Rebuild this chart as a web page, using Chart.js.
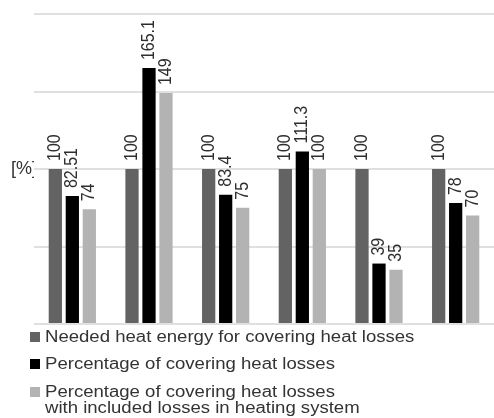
<!DOCTYPE html>
<html>
<head>
<meta charset="utf-8">
<script src="https://cdn.jsdelivr.net/npm/chart.js@4"></script>
<style>
    body { margin: 0; background: #fff; }
    #wrap { position: relative; width: 494px; height: 418px; }
    #legend { position: absolute; left: 0; top: 0; font-family: 'Liberation Sans', Arial, sans-serif; font-size: 16px; color: #333; }
    .item { position: absolute; left: 30px; white-space: nowrap; }
    .box { position: absolute; left: 0; width: 10px; height: 10px; }
    .txt { position: absolute; left: 15px; top: 0; line-height: 16px; transform: scaleX(1.16); transform-origin: 0 0; }
</style>
</head>
<body>
<div id="wrap">
    <canvas id="barChart" width="494" height="418"></canvas>
    <div id="legend"></div>
</div>
<script>
// Chart values
const categories = ['1', '2', '3', '4', '5', '6'];
const neededHeat = [100, 100, 100, 100, 100, 100];
const coveringLosses = [82.51, 165.1, 83.4, 111.3, 39, 78];
const coveringWithSystem = [74, 149, 75, 100, 35, 70];
const seriesLabels = [
    ['Needed heat energy for covering heat losses'],
    ['Percentage of covering heat losses'],
    ['Percentage of covering heat losses', 'with included losses in heating system']
];
const seriesColors = ['#636363', '#000000', '#b3b3b3'];

const FONT = "'Liberation Sans', Arial, sans-serif";

// Rotated value labels above each bar
const valueLabels = {
    id: 'valueLabels',
    afterDatasetsDraw(chart) {
        const ctx = chart.ctx;
        ctx.save();
        ctx.fillStyle = '#2e2e2e';
        ctx.font = '16px ' + FONT;
        ctx.textAlign = 'left';
        ctx.textBaseline = 'middle';
        chart.data.datasets.forEach((ds, i) => {
            chart.getDatasetMeta(i).data.forEach((bar, j) => {
                ctx.save();
                ctx.translate(bar.x, bar.y - 8);
                ctx.scale(1.16, 1);
                ctx.rotate(-Math.PI / 2);
                ctx.fillText(String(ds.data[j]), 0, 0);
                ctx.restore();
            });
        });
        ctx.restore();
    }
};

const ctx = document.getElementById('barChart').getContext('2d');
const barChart = new Chart(ctx, {
    type: 'bar',
    data: {
        labels: categories,
        datasets: [
            { label: seriesLabels[0].join(' '), data: neededHeat, backgroundColor: seriesColors[0] },
            { label: seriesLabels[1].join(' '), data: coveringLosses, backgroundColor: seriesColors[1] },
            { label: seriesLabels[2].join(' '), data: coveringWithSystem, backgroundColor: seriesColors[2] }
        ]
    },
    options: {
        responsive: false,
        animation: false,
        devicePixelRatio: 1,
        layout: { padding: { top: 14, bottom: 94, right: 0, left: 0 } },
        datasets: { bar: { categoryPercentage: 0.665, barPercentage: 0.78 } },
        plugins: { legend: { display: false }, tooltip: { enabled: false } },
        scales: {
            x: { display: false },
            y: {
                min: 0,
                max: 200,
                border: { display: false },
                grid: { color: '#e0e0e0', lineWidth: 2, drawTicks: false },
                afterFit: scale => { scale.width = 34; },
                ticks: {
                    stepSize: 50,
                    padding: -3,
                    color: '#333',
                    font: { family: FONT, size: 18 },
                    callback: v => (v === 100 ? '[%]' : '')
                }
            }
        }
    },
    plugins: [valueLabels]
});

// Legend drawn as html under the plot
const legendTops = [329, 356, 384];
const legend = document.getElementById('legend');
seriesLabels.forEach((lines, i) => {
    const item = document.createElement('div');
    item.className = 'item';
    item.style.top = legendTops[i] + 'px';
    item.innerHTML = '<div class="box" style="top:3px;background:' + seriesColors[i] + '"></div>' +
        '<div class="txt">' + lines.join('<br>') + '</div>';
    legend.appendChild(item);
});
</script>
</body>
</html>
